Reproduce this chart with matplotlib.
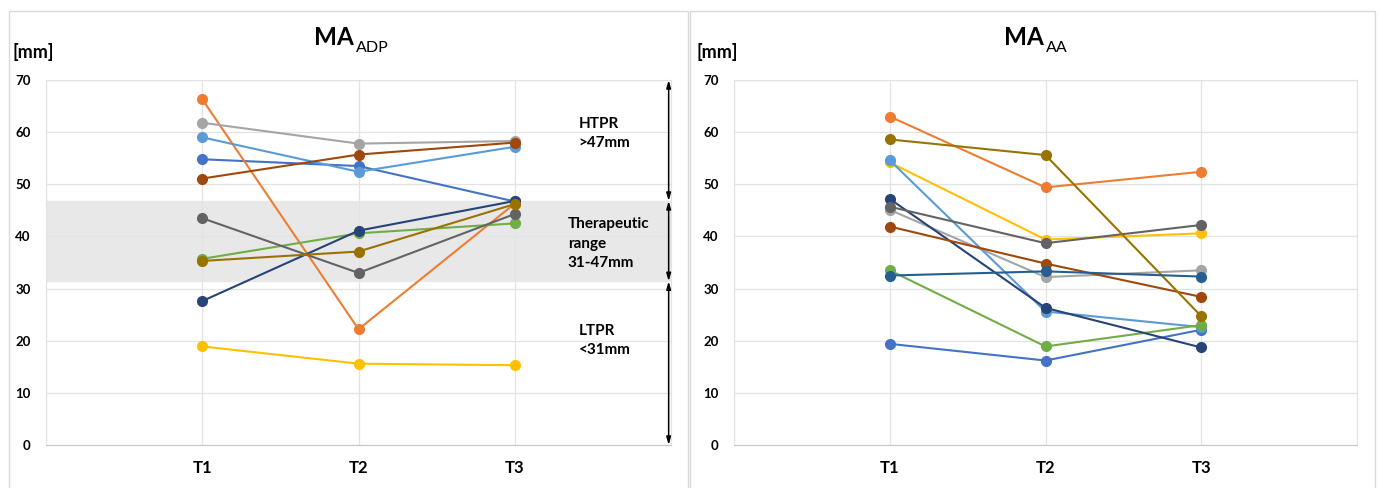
import matplotlib
matplotlib.use('Agg')
import matplotlib.pyplot as plt
from matplotlib.patches import Rectangle

plt.rcParams['font.family'] = ['Lato', 'DejaVu Sans']

# time points on the x axis
timepoints = ['T1', 'T2', 'T3']

# MA ADP [mm], one entry per patient, per time point
adp_t1 = [54.8, 66.3, 61.8, 18.9, 59.0, 35.7, 27.6, 51.1, 43.5, 35.3]
adp_t2 = [53.5, 22.2, 57.8, 15.6, 52.4, 40.6, 41.1, 55.7, 33.0, 37.1]
adp_t3 = [46.7, 46.3, 58.3, 15.3, 57.2, 42.5, 46.8, 58.0, 44.3, 46.2]

# MA AA [mm]
aa_t1 = [19.4, 63.0, 45.1, 54.2, 54.6, 33.5, 47.2, 41.9, 45.7, 58.6, 32.5]
aa_t2 = [16.2, 49.4, 32.2, 39.4, 25.6, 18.9, 26.3, 34.8, 38.7, 55.6, 33.3]
aa_t3 = [22.1, 52.4, 33.5, 40.6, 22.6, 23.0, 18.7, 28.4, 42.2, 24.7, 32.3]

# therapeutic range limits [mm]
ltpr_limit = 31.4
htpr_limit = 46.8

colors = ['#4472C4', '#ED7D31', '#A5A5A5', '#FFC000', '#5B9BD5', '#70AD47',
          '#264478', '#9E480E', '#636363', '#997300', '#255E91']

W, H = 1379, 488
fig = plt.figure(figsize=(W / 100, H / 100), dpi=100)

# panel frames like the two Excel chart boxes
for x0, x1 in [(9, 688), (690, 1375)]:
    fig.patches.append(Rectangle((x0 / W, -0.05), (x1 - x0) / W, 1.05 - 11 / H,
                                 transform=fig.transFigure, fill=False,
                                 edgecolor='#d9d9d9', lw=1.0))


def make_axes(left_px, right_px):
    ax = fig.add_axes([left_px / W, (H - 445) / H, (right_px - left_px) / W, 365 / H])
    ax.set_xlim(0, 4)
    ax.set_ylim(0, 70)
    ax.set_yticks(range(0, 71, 10))
    ax.set_xticks([0, 1, 2, 3, 4])
    ax.set_xticklabels(['', *timepoints, ''])
    ax.tick_params(length=0)
    ax.tick_params(axis='y', pad=11, labelsize=9.5)
    ax.tick_params(axis='x', pad=11, labelsize=12)
    for lab in ax.get_xticklabels() + ax.get_yticklabels():
        lab.set_fontweight('bold')
    ax.grid(True, color='#e3e3e3', lw=0.9)
    ax.set_axisbelow(True)
    for s in ax.spines.values():
        s.set_color('#e3e3e3')
    ax.spines['bottom'].set_color('#c8c8c8')
    return ax


def draw_series(ax, t1, t2, t3):
    x = [1, 2, 3]
    for i in range(len(t1)):
        ax.plot(x, [t1[i], t2[i], t3[i]], color=colors[i], lw=1.5,
                marker='o', markersize=7, zorder=3 + i * 0.01)


def title(ax, x_px, main, sub):
    t = fig.text(x_px / W, 1 - 45 / H, main, fontsize=17.5, fontweight='bold',
                 ha='left', va='baseline')
    ax.annotate(sub, xy=(1, 0), xycoords=t, xytext=(1.5, -2.5),
                textcoords='offset points', fontsize=11.5, ha='left', va='baseline',
                annotation_clip=False)


# left panel: MA ADP
ax1 = make_axes(46, 671)
ax1.axhspan(ltpr_limit, htpr_limit, color='#e8e8e8', zorder=0.5)
draw_series(ax1, adp_t1, adp_t2, adp_t3)
for y0, y1 in [(70, htpr_limit), (htpr_limit, ltpr_limit), (ltpr_limit, 0)]:
    ax1.annotate('', xy=(3.985, y1), xytext=(3.985, y0),
                 arrowprops=dict(arrowstyle='<|-|>,head_length=0.45,head_width=0.13',
                                 color='black', lw=1.1, shrinkA=0, shrinkB=0),
                 annotation_clip=False)
ax1.text(3.41, 59.7, 'HTPR\n>47mm', fontsize=11, fontweight='bold', va='center',
         linespacing=1.5)
ax1.text(3.34, 38.6, 'Therapeutic\nrange\n31-47mm', fontsize=11, fontweight='bold',
         va='center', linespacing=1.5)
ax1.text(3.41, 20.0, 'LTPR\n<31mm', fontsize=11, fontweight='bold', va='center',
         linespacing=1.5)
title(ax1, 314, 'MA', 'ADP')
fig.text(12 / W, 1 - 52 / H, '[mm]', fontsize=13, fontweight='bold', va='center')

# right panel: MA AA
ax2 = make_axes(734, 1357)
draw_series(ax2, aa_t1, aa_t2, aa_t3)
title(ax2, 1004, 'MA', 'AA')
fig.text(697 / W, 1 - 52 / H, '[mm]', fontsize=13, fontweight='bold', va='center')

fig.savefig('out.png', dpi=100)
